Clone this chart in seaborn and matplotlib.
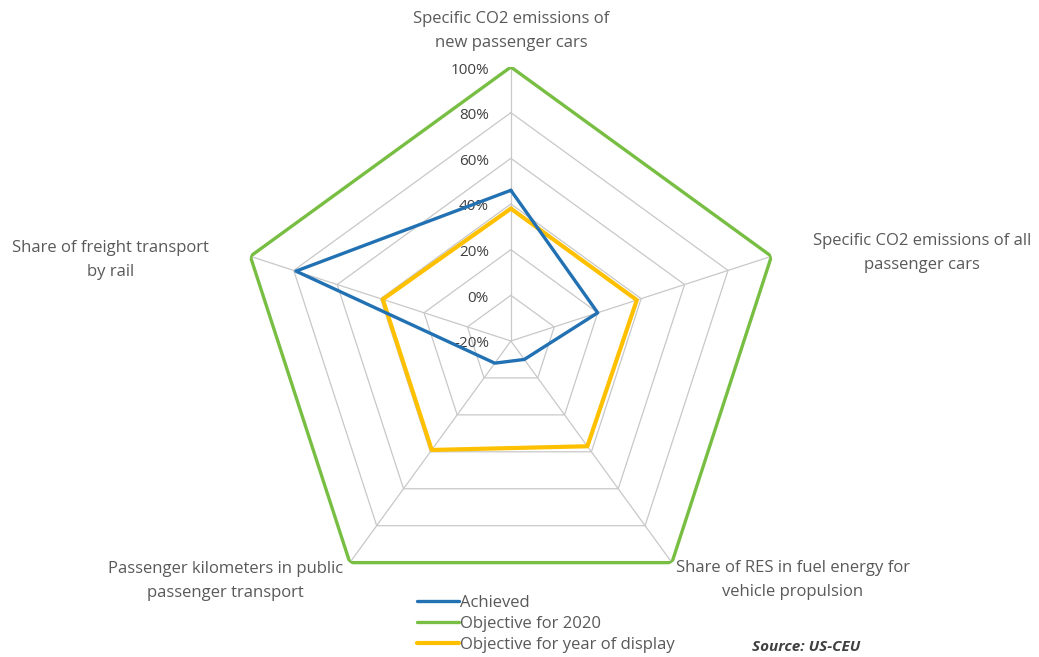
import numpy as np
import pandas as pd
import seaborn as sns
import matplotlib.pyplot as plt

categories = ["Specific CO2 emissions of\nnew passenger cars",
              "Specific CO2 emissions of all\npassenger cars",
              "Share of RES in fuel energy for\nvehicle propulsion",
              "Passenger kilometers in public\npassenger transport",
              "Share of freight transport\nby rail"]
achieved = [46, 20, -10, -8, 79]
objective_2020 = [100, 100, 100, 100, 100]
objective_display = [38, 38, 37, 39, 39]
levels = [-20, 0, 20, 40, 60, 80, 100]
level_labels = ["-20%", "0%", "20%", "40%", "60%", "80%", "100%"]

sns.set_theme(style="white")
plt.rcParams['font.family'] = ['Open Sans', 'DejaVu Sans']

fig = plt.figure(figsize=(10.39, 6.57), dpi=100)
ax = fig.add_axes([0.228, 0.064, 0.5274, 0.834], projection='polar')
ax.set_theta_offset(np.pi / 2)
ax.set_theta_direction(-1)
ax.set_ylim(levels[0], levels[-1])
ax.grid(False)
ax.set_xticks([])
ax.set_yticks([])
ax.spines['polar'].set_visible(False)

n = len(categories)
theta = np.linspace(0, 2 * np.pi, n, endpoint=False)
theta_closed = np.append(theta, theta[0])

# pentagon grid and spokes
for lv in levels[1:]:
    ax.plot(theta_closed, [lv] * (n + 1), color='#C8C8C8', lw=0.9, zorder=1)
for t in theta:
    ax.plot([t, t], [levels[0], levels[-1]], color='#C8C8C8', lw=0.9, zorder=1)

series = [("Achieved", achieved, '#2271B3', 2.4, 4),
          ("Objective for 2020", objective_2020, '#78BE43', 2.4, 2),
          ("Objective for year of display", objective_display, '#FFC000', 3.0, 3)]
handles = []
for name, vals, col, lw, z in series:
    df = pd.DataFrame({"theta": theta_closed, "value": np.append(vals, vals[0])})
    sns.lineplot(data=df, x="theta", y="value", sort=False, estimator=None,
                 color=col, lw=lw, ax=ax, zorder=z)
    handles.append(plt.Line2D([], [], color=col, lw=lw, label=name))
ax.set_xlabel("")
ax.set_ylabel("")

# tick labels along top spoke
for lv, lab in zip(levels, level_labels):
    ax.annotate(lab, xy=(0, lv), xytext=(-22, -3), textcoords='offset pixels',
                ha='right', va='center', fontsize=11, color='#404040')

# category labels
offsets = [(0, 36), (151, 3), (121, -17), (-124, -18), (-140, -4)]
for t, lab, off in zip(theta, categories, offsets):
    ax.annotate(lab, xy=(t, levels[-1]), xytext=off, textcoords='offset pixels',
                ha='center', va='center', multialignment='center',
                fontsize=12, color='#595959', linespacing=1.65,
                annotation_clip=False)

fig.legend(handles=handles, loc='upper left', bbox_to_anchor=(417 / 1039, 1 - 595 / 657),
           frameon=False, handlelength=2.5, handletextpad=0.1, labelspacing=0.3,
           fontsize=12, labelcolor='#595959', borderaxespad=0, borderpad=0)

fig.text(752 / 1039, 1 - 647 / 657, "Source: US-CEU", fontsize=11, style='italic',
         fontweight='bold', color='#404040', va='center', ha='left')

plt.savefig("out.png", dpi=100)
